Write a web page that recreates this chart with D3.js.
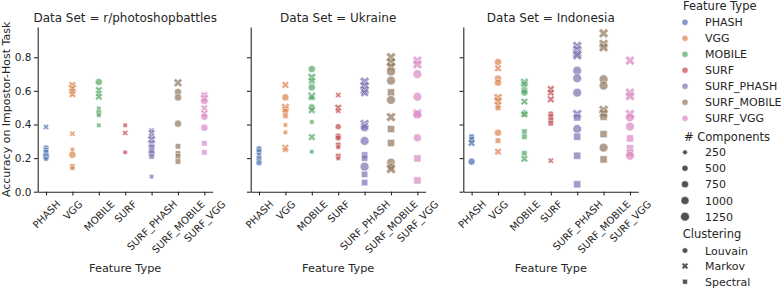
<!DOCTYPE html>
<html>
<head>
<meta charset="utf-8">
<script src="https://cdn.jsdelivr.net/npm/d3@7"></script>
<style>
  body { margin: 0; background: #fff; }
  text { font-family: "DejaVu Sans", sans-serif; fill: #262626; }
</style>
</head>
<body>
<div class="facetViz"></div>
<script>
var dataSets = ["r/photoshopbattles", "Ukraine", "Indonesia"];
var featureTypes = ["PHASH", "VGG", "MOBILE", "SURF", "SURF_PHASH", "SURF_MOBILE", "SURF_VGG"];
var featureColors = ["#4c72b0", "#dd8452", "#55a868", "#c44e52", "#8172b3", "#937860", "#da8bc3"];
var clusterings = ["Louvain", "Markov", "Spectral"];
var componentLevels = [250, 500, 750, 1000, 1250];
var yTicks = [0, 0.2, 0.4, 0.6, 0.8];

// [feature type, clustering, # components, accuracy]
var photoshopPoints = [
  ["PHASH", "Markov", 250, 0.385], ["PHASH", "Louvain", 500, 0.26], ["PHASH", "Spectral", 250, 0.25],
  ["PHASH", "Spectral", 500, 0.235], ["PHASH", "Spectral", 750, 0.21], ["PHASH", "Spectral", 250, 0.195],
  ["VGG", "Markov", 500, 0.635], ["VGG", "Markov", 750, 0.615], ["VGG", "Louvain", 500, 0.61],
  ["VGG", "Markov", 250, 0.60], ["VGG", "Markov", 500, 0.58], ["VGG", "Markov", 250, 0.345],
  ["VGG", "Spectral", 250, 0.25], ["VGG", "Louvain", 750, 0.22], ["VGG", "Spectral", 500, 0.15],
  ["VGG", "Spectral", 250, 0.14],
  ["MOBILE", "Louvain", 750, 0.653], ["MOBILE", "Markov", 500, 0.605], ["MOBILE", "Markov", 250, 0.585],
  ["MOBILE", "Markov", 500, 0.565], ["MOBILE", "Spectral", 250, 0.495], ["MOBILE", "Spectral", 500, 0.47],
  ["MOBILE", "Spectral", 250, 0.455], ["MOBILE", "Spectral", 250, 0.395],
  ["SURF", "Spectral", 250, 0.395], ["SURF", "Markov", 250, 0.35], ["SURF", "Louvain", 250, 0.234],
  ["SURF_PHASH", "Markov", 250, 0.365], ["SURF_PHASH", "Markov", 500, 0.35], ["SURF_PHASH", "Markov", 250, 0.33],
  ["SURF_PHASH", "Markov", 750, 0.31], ["SURF_PHASH", "Markov", 500, 0.29], ["SURF_PHASH", "Louvain", 500, 0.27],
  ["SURF_PHASH", "Spectral", 750, 0.26], ["SURF_PHASH", "Spectral", 500, 0.245], ["SURF_PHASH", "Louvain", 750, 0.23],
  ["SURF_PHASH", "Spectral", 500, 0.21], ["SURF_PHASH", "Spectral", 250, 0.09],
  ["SURF_MOBILE", "Markov", 750, 0.648], ["SURF_MOBILE", "Louvain", 750, 0.593], ["SURF_MOBILE", "Louvain", 750, 0.561],
  ["SURF_MOBILE", "Louvain", 750, 0.405], ["SURF_MOBILE", "Spectral", 500, 0.27], ["SURF_MOBILE", "Spectral", 500, 0.228],
  ["SURF_MOBILE", "Spectral", 500, 0.21], ["SURF_MOBILE", "Spectral", 500, 0.18],
  ["SURF_VGG", "Markov", 500, 0.575], ["SURF_VGG", "Markov", 750, 0.555], ["SURF_VGG", "Louvain", 750, 0.54],
  ["SURF_VGG", "Markov", 500, 0.497], ["SURF_VGG", "Markov", 500, 0.466], ["SURF_VGG", "Louvain", 750, 0.446],
  ["SURF_VGG", "Louvain", 750, 0.381], ["SURF_VGG", "Spectral", 500, 0.288], ["SURF_VGG", "Spectral", 500, 0.234]
];

var ukrainePoints = [
  ["PHASH", "Louvain", 500, 0.255], ["PHASH", "Spectral", 500, 0.238], ["PHASH", "Spectral", 250, 0.22],
  ["PHASH", "Spectral", 500, 0.198], ["PHASH", "Louvain", 500, 0.172],
  ["VGG", "Markov", 500, 0.635], ["VGG", "Louvain", 750, 0.561], ["VGG", "Markov", 750, 0.502],
  ["VGG", "Markov", 500, 0.49], ["VGG", "Spectral", 500, 0.478], ["VGG", "Spectral", 500, 0.452],
  ["VGG", "Spectral", 250, 0.397], ["VGG", "Spectral", 250, 0.353], ["VGG", "Markov", 500, 0.262],
  ["VGG", "Markov", 250, 0.25],
  ["MOBILE", "Louvain", 750, 0.73], ["MOBILE", "Markov", 750, 0.681], ["MOBILE", "Markov", 500, 0.66],
  ["MOBILE", "Louvain", 750, 0.621], ["MOBILE", "Markov", 750, 0.569], ["MOBILE", "Spectral", 500, 0.56],
  ["MOBILE", "Louvain", 750, 0.502], ["MOBILE", "Markov", 500, 0.485], ["MOBILE", "Spectral", 250, 0.415],
  ["MOBILE", "Markov", 500, 0.325], ["MOBILE", "Spectral", 250, 0.238],
  ["SURF", "Markov", 250, 0.575], ["SURF", "Markov", 500, 0.5], ["SURF", "Markov", 250, 0.482],
  ["SURF", "Louvain", 500, 0.387], ["SURF", "Louvain", 500, 0.331], ["SURF", "Louvain", 500, 0.32],
  ["SURF", "Spectral", 500, 0.278], ["SURF", "Spectral", 250, 0.265], ["SURF", "Spectral", 500, 0.212],
  ["SURF", "Spectral", 250, 0.198],
  ["SURF_PHASH", "Markov", 1000, 0.655], ["SURF_PHASH", "Markov", 1000, 0.629], ["SURF_PHASH", "Markov", 1000, 0.605],
  ["SURF_PHASH", "Markov", 750, 0.589], ["SURF_PHASH", "Markov", 1000, 0.403], ["SURF_PHASH", "Markov", 750, 0.39],
  ["SURF_PHASH", "Louvain", 1000, 0.381], ["SURF_PHASH", "Louvain", 1250, 0.302], ["SURF_PHASH", "Spectral", 750, 0.218],
  ["SURF_PHASH", "Spectral", 750, 0.2], ["SURF_PHASH", "Louvain", 1250, 0.149], ["SURF_PHASH", "Spectral", 750, 0.103],
  ["SURF_PHASH", "Spectral", 750, 0.054],
  ["SURF_MOBILE", "Markov", 1000, 0.80], ["SURF_MOBILE", "Markov", 1000, 0.77], ["SURF_MOBILE", "Markov", 1000, 0.744],
  ["SURF_MOBILE", "Louvain", 1250, 0.714], ["SURF_MOBILE", "Louvain", 1250, 0.661], ["SURF_MOBILE", "Spectral", 1000, 0.591],
  ["SURF_MOBILE", "Louvain", 1250, 0.546], ["SURF_MOBILE", "Markov", 1000, 0.444], ["SURF_MOBILE", "Spectral", 1000, 0.373],
  ["SURF_MOBILE", "Spectral", 1000, 0.29], ["SURF_MOBILE", "Louvain", 1250, 0.173], ["SURF_MOBILE", "Spectral", 1000, 0.149],
  ["SURF_MOBILE", "Markov", 1000, 0.135],
  ["SURF_VGG", "Markov", 1000, 0.78], ["SURF_VGG", "Markov", 1000, 0.758], ["SURF_VGG", "Louvain", 1250, 0.70],
  ["SURF_VGG", "Louvain", 1250, 0.565], ["SURF_VGG", "Markov", 1000, 0.466], ["SURF_VGG", "Louvain", 1250, 0.46],
  ["SURF_VGG", "Louvain", 1000, 0.321], ["SURF_VGG", "Spectral", 1000, 0.198], ["SURF_VGG", "Spectral", 1000, 0.067]
];

var indonesiaPoints = [
  ["PHASH", "Spectral", 500, 0.327], ["PHASH", "Spectral", 500, 0.31], ["PHASH", "Markov", 500, 0.29],
  ["PHASH", "Louvain", 750, 0.179],
  ["VGG", "Louvain", 750, 0.772], ["VGG", "Markov", 500, 0.734], ["VGG", "Louvain", 750, 0.673],
  ["VGG", "Louvain", 750, 0.649], ["VGG", "Markov", 750, 0.56], ["VGG", "Markov", 750, 0.54],
  ["VGG", "Markov", 500, 0.516], ["VGG", "Spectral", 500, 0.498], ["VGG", "Louvain", 750, 0.351],
  ["VGG", "Spectral", 500, 0.304], ["VGG", "Markov", 500, 0.238],
  ["MOBILE", "Markov", 750, 0.651], ["MOBILE", "Markov", 500, 0.64], ["MOBILE", "Louvain", 750, 0.605],
  ["MOBILE", "Louvain", 750, 0.59], ["MOBILE", "Markov", 500, 0.536], ["MOBILE", "Louvain", 750, 0.466],
  ["MOBILE", "Markov", 500, 0.46], ["MOBILE", "Spectral", 500, 0.357], ["MOBILE", "Spectral", 500, 0.327],
  ["MOBILE", "Spectral", 500, 0.228], ["MOBILE", "Markov", 500, 0.196],
  ["SURF", "Markov", 500, 0.611], ["SURF", "Markov", 500, 0.589], ["SURF", "Markov", 500, 0.55],
  ["SURF", "Louvain", 500, 0.462], ["SURF", "Spectral", 500, 0.447], ["SURF", "Spectral", 500, 0.427],
  ["SURF", "Spectral", 500, 0.407], ["SURF", "Markov", 250, 0.185],
  ["SURF_PHASH", "Markov", 1000, 0.867], ["SURF_PHASH", "Markov", 1000, 0.845], ["SURF_PHASH", "Markov", 1000, 0.823],
  ["SURF_PHASH", "Markov", 1000, 0.812], ["SURF_PHASH", "Louvain", 1250, 0.72], ["SURF_PHASH", "Louvain", 1250, 0.675],
  ["SURF_PHASH", "Louvain", 1250, 0.589], ["SURF_PHASH", "Markov", 1000, 0.462], ["SURF_PHASH", "Spectral", 1000, 0.442],
  ["SURF_PHASH", "Louvain", 1250, 0.373], ["SURF_PHASH", "Spectral", 1000, 0.327], ["SURF_PHASH", "Spectral", 1000, 0.214],
  ["SURF_PHASH", "Spectral", 1000, 0.044],
  ["SURF_MOBILE", "Markov", 1000, 0.942], ["SURF_MOBILE", "Markov", 1000, 0.879], ["SURF_MOBILE", "Markov", 1000, 0.859],
  ["SURF_MOBILE", "Louvain", 1250, 0.669], ["SURF_MOBILE", "Louvain", 1250, 0.631], ["SURF_MOBILE", "Markov", 1000, 0.486],
  ["SURF_MOBILE", "Markov", 1000, 0.466], ["SURF_MOBILE", "Spectral", 1000, 0.446], ["SURF_MOBILE", "Spectral", 1000, 0.343],
  ["SURF_MOBILE", "Louvain", 1250, 0.262], ["SURF_MOBILE", "Spectral", 1000, 0.192],
  ["SURF_VGG", "Markov", 1000, 0.78], ["SURF_VGG", "Markov", 1000, 0.589], ["SURF_VGG", "Markov", 1000, 0.569],
  ["SURF_VGG", "Markov", 1000, 0.462], ["SURF_VGG", "Louvain", 1250, 0.442], ["SURF_VGG", "Louvain", 1250, 0.387],
  ["SURF_VGG", "Spectral", 1000, 0.317], ["SURF_VGG", "Spectral", 1000, 0.258], ["SURF_VGG", "Spectral", 1000, 0.232],
  ["SURF_VGG", "Louvain", 1250, 0.214]
];

var panelPoints = [photoshopPoints, ukrainePoints, indonesiaPoints];

var width = 781,
    height = 289,
    panelLefts = [37.7, 250.7, 463.3],
    panelWidth = 175,
    plotTop = 27,
    plotBottom = 191.7,
    tickLen = 3.7,
    tickFont = 10,
    labelFont = 11.3,
    titleFont = 12,
    legendFont = 11,
    legendTitleFont = 11.5;

var color = d3.scaleOrdinal().domain(featureTypes).range(featureColors);

// marker diameter in px, area grows linearly with # components
var diameter = d3.scaleLinear()
    .domain(d3.extent(componentLevels))
    .range([4.8 * 4.8, 8.8 * 8.8]);
function markerSize(c) { return Math.sqrt(diameter(c)); }

function markerPath(clustering, d) {
  if (clustering == "Louvain") return d3.symbol(d3.symbolCircle, Math.PI * d * d / 4)();
  if (clustering == "Markov") return d3.symbol(d3.symbolCross, 0.95 * d * d)();
  return d3.symbol(d3.symbolSquare, 0.8 * d * d)();
}
function markerRotate(clustering) { return clustering == "Markov" ? " rotate(45)" : ""; }

var y = d3.scaleLinear().domain([0, 0.98]).range([plotBottom, plotTop]);

d3.select(".facetViz").selectAll("*").remove();
var svg = d3.select(".facetViz").append("svg")
    .attr("width", width)
    .attr("height", height);

function styleAxis(g) {
  g.selectAll("path, line").attr("stroke", "#262626").attr("stroke-width", 1.1);
  g.selectAll("text").style("font-size", tickFont + "px").attr("fill", "#262626")
    .style("font-family", "'DejaVu Sans', sans-serif");
}

dataSets.forEach(function(name, i) {
  var x0 = panelLefts[i];
  var x = d3.scalePoint().domain(featureTypes).range([x0, x0 + panelWidth]).padding(0.315);

  var yAxis = d3.axisLeft(y).tickValues(yTicks).tickSize(tickLen).tickSizeOuter(0).tickPadding(2.5)
      .tickFormat(i == 0 ? d3.format(".1f") : function() { return ""; });
  var yg = svg.append("g").attr("transform", "translate(" + x0 + ",0)").call(yAxis);
  styleAxis(yg);
  yg.selectAll("text").style("font-size", "10.5px");

  var xAxis = d3.axisBottom(x).tickSize(tickLen).tickSizeOuter(0);
  var xg = svg.append("g").attr("transform", "translate(0," + plotBottom + ")").call(xAxis);
  styleAxis(xg);
  // matplotlib style: rotated 45 degrees, bounding box centred under the tick
  xg.selectAll(".tick text")
      .attr("y", null).attr("dy", null)
      .attr("text-anchor", "middle")
      .attr("dominant-baseline", "central")
      .attr("transform", function() {
        var L = this.getComputedTextLength();
        var half = (L + tickFont) * Math.SQRT1_2 / 2;
        return "translate(0," + (tickLen + 3.3 + half) + ") rotate(-45)";
      });

  svg.append("text")
      .attr("x", x0 + panelWidth / 2)
      .attr("y", 21.5)
      .attr("text-anchor", "middle")
      .style("font-size", titleFont + "px")
      .text("Data Set = " + name);

  svg.append("text")
      .attr("x", x0 + panelWidth / 2)
      .attr("y", 271.5)
      .attr("text-anchor", "middle")
      .style("font-size", labelFont + "px")
      .text("Feature Type");

  svg.append("g").selectAll("path")
    .data(panelPoints[i])
    .enter()
    .append("path")
      .attr("d", function(d) { return markerPath(d[1], markerSize(d[2])); })
      .attr("transform", function(d) {
        return "translate(" + x(d[0]) + "," + y(d[3]) + ")" + markerRotate(d[1]);
      })
      .style("fill", function(d) { return color(d[0]); })
      .style("fill-opacity", 0.72)
      .style("stroke", "#fff")
      .style("stroke-width", 0.5);
});

svg.append("text")
    .attr("transform", "translate(9.5," + ((plotTop + plotBottom) / 2) + ") rotate(-90)")
    .attr("text-anchor", "middle")
    .style("font-size", "11px")
    .text("Accuracy on Impostor-Host Task");

// legend
var legend = svg.append("g");
var markX = 685, labelX = 705;

function legendTitle(text, yc, xPos) {
  legend.append("text").attr("x", xPos).attr("y", yc + 4.3)
      .style("font-size", legendTitleFont + "px").text(text);
}
function legendLabel(text, yc) {
  legend.append("text").attr("x", labelX).attr("y", yc + 4)
      .style("font-size", legendFont + "px").text(text);
}

legendTitle("Feature Type", 5.8, 683);
featureTypes.forEach(function(f, k) {
  var yc = 22.3 + k * 16;
  legend.append("path")
      .attr("d", markerPath("Louvain", 6.2))
      .attr("transform", "translate(" + markX + "," + yc + ")")
      .style("fill", color(f)).style("fill-opacity", 0.72)
      .style("stroke", "#fff").style("stroke-width", 0.5);
  legendLabel(f, yc);
});

legendTitle("# Components", 136.7, 684);
var sizeRows = [152.3, 168.3, 184.3, 200.6, 216.7];
componentLevels.forEach(function(c, k) {
  legend.append("path")
      .attr("d", markerPath("Louvain", markerSize(c)))
      .attr("transform", "translate(" + markX + "," + sizeRows[k] + ")")
      .style("fill", "#333").style("fill-opacity", 0.85)
      .style("stroke", "#fff").style("stroke-width", 0.5);
  legendLabel(String(c), sizeRows[k]);
});

legendTitle("Clustering", 233.3, 682.7);
var styleRows = [250.5, 266, 281.7];
clusterings.forEach(function(s, k) {
  legend.append("path")
      .attr("d", markerPath(s, 5.4))
      .attr("transform", "translate(" + markX + "," + styleRows[k] + ")" + markerRotate(s))
      .style("fill", "#333").style("fill-opacity", 0.85)
      .style("stroke", "#fff").style("stroke-width", 0.5);
  legendLabel(s, styleRows[k]);
});
</script>
</body>
</html>
